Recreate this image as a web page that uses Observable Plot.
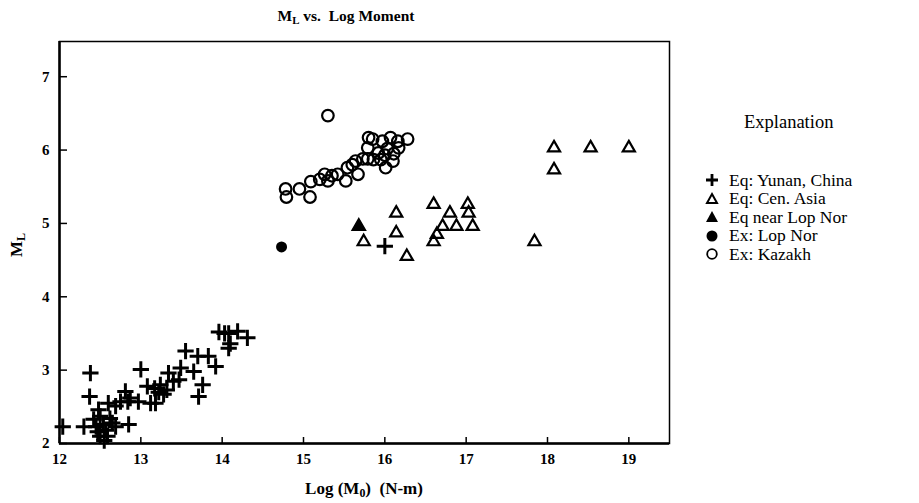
<!DOCTYPE html>
<html>
<head>
<meta charset="utf-8">
<script src="https://cdn.jsdelivr.net/npm/d3@7"></script>
<script src="https://cdn.jsdelivr.net/npm/@observablehq/plot@0.6"></script>
<style>
  html, body { margin: 0; padding: 0; background: #fff; }
  #wrap { position: relative; width: 919px; height: 503px; font-family: "Liberation Serif", "DejaVu Serif", serif; color: #000; }
  #wrap > svg { position: absolute; left: 0; top: 0; }
  .ov { position: absolute; white-space: nowrap; }
  #title { left: 346px; top: 7px; transform: translateX(-50%); font-size: 15.5px; font-weight: bold; }
  #xlabel { left: 364px; top: 479px; transform: translateX(-50%); font-size: 17px; font-weight: bold; }
  #ylabel { left: 17px; top: 245px; transform: translate(-50%, -50%) rotate(-90deg); font-size: 17px; font-weight: bold; }
  sub { font-size: 70%; vertical-align: -0.25em; line-height: 0; }
  #legend { left: 704px; top: 111px; font-size: 17.5px; }
  #legend .head { margin-left: 40px; margin-bottom: 38px; line-height: 22px; font-size: 18.5px; }
  #legend .row { display: flex; align-items: center; height: 18.5px; line-height: 17px; }
  #legend .row svg { width: 16px; height: 16px; margin-right: 9px; flex: none; }
</style>
</head>
<body>
<div id="wrap"></div>
<script>
// ---- data ----
const xTicks = [12, 13, 14, 15, 16, 17, 18, 19];
const yTicks = [2, 3, 4, 5, 6, 7];

const yunanX = [12.04, 12.38, 12.37, 12.30, 12.48, 12.42, 12.50, 12.54, 12.47, 12.50, 12.59, 12.62, 12.69, 12.85, 12.60, 12.69, 12.75, 12.81, 12.84, 12.87, 12.97, 13.00, 12.55, 12.57, 12.45, 12.65,
  13.18, 13.08, 13.17, 13.22, 13.28, 13.24, 13.34, 13.40, 13.49, 13.47, 13.32, 13.12, 13.55, 13.70, 13.65, 13.76, 13.71, 13.83, 13.92, 13.96, 14.08, 14.19, 14.31, 14.08, 14.10, 14.03, 16.00];
const yunanY = [2.23, 2.96, 2.64, 2.23, 2.46, 2.33, 2.37, 2.26, 2.16, 2.10, 2.10, 2.34, 2.23, 2.26, 2.55, 2.51, 2.57, 2.71, 2.57, 2.62, 2.57, 3.01, 2.04, 2.18, 2.23, 2.28,
  2.55, 2.78, 2.75, 2.70, 2.67, 2.80, 2.96, 2.85, 3.03, 2.87, 2.73, 2.55, 3.26, 3.19, 2.98, 2.80, 2.64, 3.19, 3.05, 3.52, 3.50, 3.53, 3.44, 3.30, 3.36, 3.50, 4.69];

const cenAsiaX = [16.14, 16.14, 15.74, 16.27, 16.60, 16.80, 17.02, 17.03, 16.71, 16.88, 17.08, 16.64, 16.60, 17.84, 18.08, 18.53, 19.00, 18.08];
const cenAsiaY = [5.14, 4.87, 4.75, 4.55, 5.26, 5.14, 5.26, 5.14, 4.96, 4.96, 4.96, 4.85, 4.75, 4.75, 6.03, 6.03, 6.03, 5.73];

const lopNorEqX = [15.68];
const lopNorEqY = [4.96];

const lopNorExX = [14.73];
const lopNorExY = [4.68];

const kazakhX = [15.30, 14.78, 14.79, 14.95, 15.08, 15.09, 15.20, 15.26, 15.30, 15.42, 15.52, 15.54, 15.67, 15.64, 15.73, 15.79, 15.86, 15.95, 16.01, 16.10, 15.79, 15.85, 15.80, 15.97, 16.07, 16.16, 16.28, 16.17, 16.03, 16.11, 15.92, 16.00, 15.60, 15.35];
const kazakhY = [6.47, 5.47, 5.36, 5.47, 5.36, 5.57, 5.60, 5.67, 5.58, 5.67, 5.58, 5.76, 5.67, 5.85, 5.88, 5.88, 5.87, 5.87, 5.76, 5.85, 6.03, 6.15, 6.17, 6.12, 6.17, 6.12, 6.15, 6.03, 6.02, 5.95, 5.96, 5.93, 5.80, 5.65];

const legendLabels = ["Eq: Yunan, China", "Eq: Cen. Asia", "Eq near Lop Nor", "Ex: Lop Nor", "Ex: Kazakh"];

// ---- build ----
const zip = (xs, ys) => xs.map((x, i) => ({x, y: ys[i]}));
const yunan = zip(yunanX, yunanY);
const cenAsia = zip(cenAsiaX, cenAsiaY);
const lopNorEq = zip(lopNorEqX, lopNorEqY);
const lopNorEx = zip(lopNorExX, lopNorExY);
const kazakh = zip(kazakhX, kazakhY);

const font = {fontFamily: "Liberation Serif", fontSize: 15, fontWeight: "bold", tickFormat: d3.format("d")};

const chart = Plot.plot({
  width: 919,
  height: 503,
  marginLeft: 59,
  marginRight: 250,
  marginTop: 41,
  marginBottom: 60,
  style: {fontFamily: "Liberation Serif", background: "transparent", color: "#000"},
  x: {domain: [12, 19.5]},
  y: {domain: [2, 7.48]},
  marks: [
    Plot.frame({stroke: "#000", strokeWidth: 1.5}),
    Plot.ruleX([xTicks[0]], {stroke: "#000", strokeWidth: 2.5}),
    Plot.ruleY([yTicks[0]], {stroke: "#000", strokeWidth: 2.5}),
    Plot.axisX(xTicks, {tickSize: -6, tickPadding: 16, strokeWidth: 1.5, label: null, ...font}),
    Plot.axisY(yTicks, {tickSize: -8, tickPadding: 18, strokeWidth: 1.5, label: null, ...font}),
    Plot.dot(kazakh, {x: "x", y: "y", r: 5.8, stroke: "#000", strokeWidth: 2.2, fill: "none"}),
    Plot.dot(cenAsia, {x: "x", y: "y", symbol: "triangle", r: 4.5, stroke: "#000", strokeWidth: 2.2, fill: "none"}),
    Plot.dot(lopNorEq, {x: "x", y: "y", symbol: "triangle", r: 5, fill: "#000", stroke: "#000"}),
    Plot.dot(lopNorEx, {x: "x", y: "y", symbol: "circle", r: 5.5, fill: "#000"}),
    Plot.dot(yunan, {x: "x", y: "y", symbol: "plus", r: 5.3, stroke: "#000", strokeWidth: 3})
  ]
});

const wrap = document.getElementById("wrap");
wrap.appendChild(chart);

const add = (id, html) => { const d = document.createElement("div"); d.className = "ov"; d.id = id; d.innerHTML = html; wrap.appendChild(d); return d; };
add("title", "M<sub>L</sub> vs.&nbsp; Log Moment");
add("xlabel", "Log (M<sub>0</sub>)&nbsp; (N-m)");
add("ylabel", "M<sub>L</sub>");

const glyphs = [
  '<path d="M8 2V14M2 8H14" stroke="#000" stroke-width="2.8"/>',
  '<path d="M8 3L13 12H3Z" stroke="#000" stroke-width="2" fill="none"/>',
  '<path d="M8 2L14 13H2Z" fill="#000"/>',
  '<circle cx="8" cy="8" r="5.5" fill="#000"/>',
  '<circle cx="8" cy="8" r="4.8" stroke="#000" stroke-width="1.8" fill="none"/>'
];
let lg = '<div class="head">Explanation</div>';
legendLabels.forEach((t, i) => {
  lg += `<div class="row"><svg viewBox="0 0 16 16">${glyphs[i]}</svg><span>${t}</span></div>`;
});
add("legend", lg);
</script>
</body>
</html>
